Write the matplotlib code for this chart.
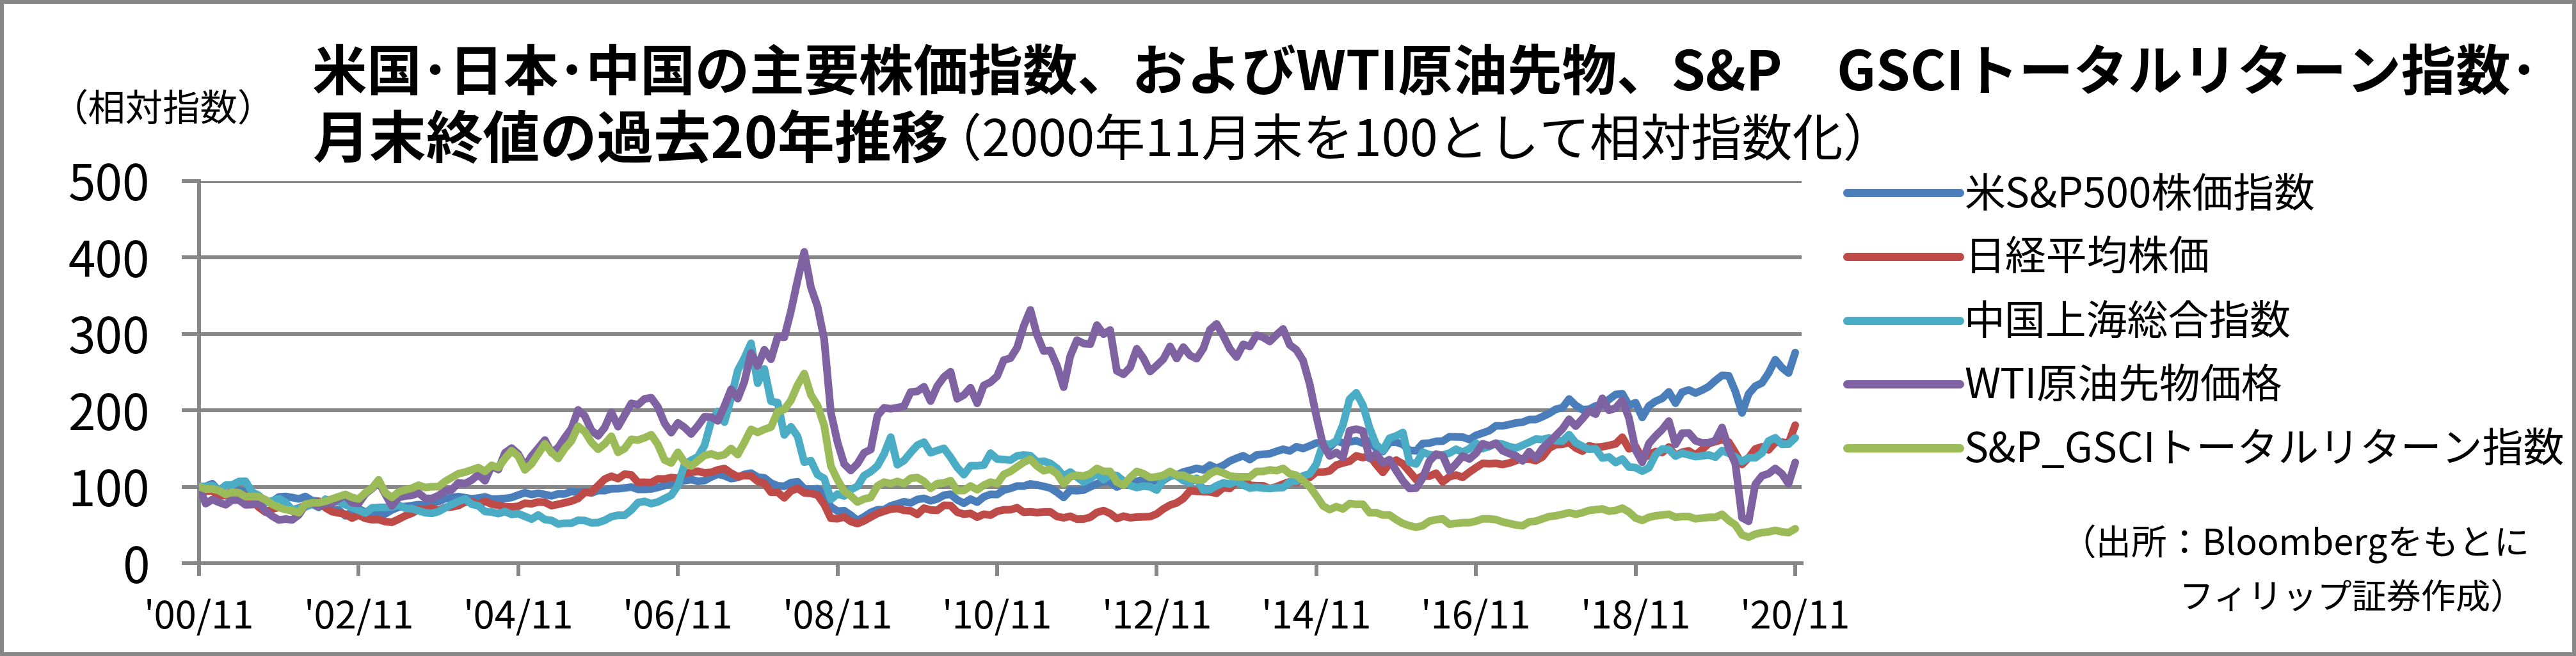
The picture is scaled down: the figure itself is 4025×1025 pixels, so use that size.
import matplotlib
matplotlib.use('Agg')
import matplotlib.pyplot as plt
import numpy as np
from matplotlib.patches import Rectangle

plt.rcParams['font.family'] = ['Noto Sans CJK JP', 'DejaVu Sans']

# month-end relative index, 2000/11 = 100 (2000/11 .. 2020/11, 241 months)
sp500 = [
    100.0, 100.4,
    103.9, 94.3, 88.2, 95.0, 95.5, 93.1, 92.1, 86.2, 79.1, 80.6, 86.6, 87.3,
    85.9, 84.1, 87.2, 81.9, 81.1, 75.3, 69.3, 69.7, 62.0, 67.3, 71.2, 66.9,
    65.1, 64.0, 64.5, 69.7, 73.3, 74.1, 75.3, 76.6, 75.7, 79.9, 80.5, 84.5,
    86.0, 87.1, 85.6, 84.2, 85.2, 86.7, 83.8, 84.0, 84.7, 85.9, 89.2, 92.1,
    89.8, 91.5, 89.8, 88.0, 90.6, 90.6, 93.8, 92.8, 93.4, 91.8, 95.0, 94.9,
    97.3, 97.4, 98.4, 99.6, 96.6, 96.6, 97.1, 99.1, 101.6, 104.8, 106.5, 107.8,
    109.4, 107.0, 108.0, 112.7, 116.4, 114.3, 110.6, 112.1, 116.1, 117.8, 112.6, 111.6,
    104.8, 101.2, 100.6, 105.3, 106.5, 97.3, 96.4, 97.5, 88.7, 73.7, 68.1, 68.7,
    62.8, 55.9, 60.7, 66.4, 69.9, 69.9, 75.1, 77.6, 80.4, 78.8, 83.3, 84.8,
    81.6, 84.0, 88.9, 90.2, 82.8, 78.4, 83.8, 79.8, 86.8, 90.0, 89.8, 95.6,
    97.8, 100.9, 100.8, 103.7, 102.3, 100.4, 98.3, 92.7, 86.0, 95.3, 94.8, 95.6,
    99.8, 103.8, 107.1, 106.3, 99.6, 103.6, 104.9, 106.9, 109.5, 107.4, 107.7, 108.4,
    113.9, 115.2, 119.3, 121.5, 124.0, 122.1, 128.2, 124.2, 127.9, 133.6, 137.3, 140.5,
    135.5, 141.4, 142.4, 143.2, 146.3, 149.0, 146.8, 152.3, 150.0, 153.4, 157.2, 156.5,
    151.7, 160.0, 157.2, 158.6, 160.2, 156.9, 160.0, 149.9, 146.0, 158.1, 158.2, 155.4,
    147.5, 146.9, 156.6, 157.0, 159.4, 159.6, 165.3, 165.1, 164.9, 161.7, 167.2, 170.2,
    173.3, 179.7, 179.6, 181.3, 183.4, 184.3, 187.8, 187.9, 191.6, 195.8, 201.3, 203.3,
    214.7, 206.3, 200.8, 201.3, 205.7, 206.7, 214.1, 220.6, 221.6, 206.2, 209.9, 190.6,
    205.6, 211.7, 215.5, 224.0, 209.2, 223.7, 226.6, 222.5, 226.3, 231.0, 238.8, 245.6,
    245.2, 224.6, 196.5, 221.4, 231.5, 235.7, 248.7, 266.1, 255.7, 248.6, 275.4,
]

nikkei = [
    100.0, 94.1,
    94.5, 88.0, 88.7, 95.1, 90.5, 88.5, 81.0, 73.1, 66.7, 70.8, 73.0, 72.0,
    68.3, 72.3, 75.3, 78.5, 80.3, 72.5, 67.4, 65.7, 64.1, 59.0, 62.9, 58.6,
    56.9, 57.1, 54.4, 53.5, 57.5, 62.0, 65.3, 70.6, 69.8, 72.1, 69.0, 72.9,
    73.6, 75.4, 80.0, 80.3, 76.7, 81.0, 77.3, 75.7, 73.9, 73.5, 74.4, 78.4,
    77.7, 80.1, 79.7, 75.2, 77.0, 79.1, 81.2, 84.7, 92.7, 92.9, 101.5, 110.0,
    113.7, 110.6, 116.5, 115.4, 105.6, 105.8, 105.5, 110.2, 110.1, 112.0, 111.1, 117.6,
    118.7, 120.2, 118.0, 118.8, 122.0, 123.8, 117.8, 113.1, 114.6, 114.3, 107.0, 104.5,
    92.8, 92.9, 85.5, 94.5, 97.9, 92.0, 91.3, 89.2, 76.9, 58.6, 58.1, 60.5,
    54.6, 51.7, 55.4, 60.3, 65.0, 68.0, 70.7, 71.6, 69.2, 68.5, 63.8, 72.0,
    69.6, 69.1, 75.7, 75.5, 66.7, 64.1, 65.1, 60.2, 64.0, 62.8, 67.8, 69.8,
    69.9, 72.5, 66.6, 67.2, 66.2, 67.0, 67.1, 61.1, 59.4, 61.4, 57.6, 57.7,
    60.1, 66.4, 68.8, 65.0, 58.3, 61.5, 59.4, 60.3, 60.6, 60.9, 64.5, 71.0,
    76.0, 78.9, 84.6, 94.6, 94.0, 93.4, 93.3, 91.4, 98.7, 97.8, 106.9, 111.2,
    101.8, 101.3, 101.2, 97.6, 99.9, 103.5, 106.6, 105.3, 110.4, 112.1, 119.2, 119.1,
    120.7, 128.3, 131.1, 133.3, 140.4, 138.1, 140.5, 129.0, 118.7, 130.3, 134.8, 129.9,
    119.6, 109.4, 114.4, 113.8, 117.7, 106.3, 113.1, 115.3, 112.3, 119.0, 125.0, 130.5,
    130.0, 130.5, 129.1, 131.0, 134.1, 136.8, 136.0, 134.1, 139.0, 150.3, 155.1, 155.4,
    157.7, 150.7, 146.5, 153.4, 151.6, 152.3, 154.0, 156.1, 164.7, 149.6, 152.6, 136.6,
    141.8, 146.0, 144.8, 152.0, 140.6, 145.2, 146.9, 141.3, 148.5, 156.5, 159.0, 161.5,
    158.4, 144.3, 129.1, 137.9, 149.4, 152.2, 148.2, 158.0, 158.3, 156.9, 180.5,
]

shanghai = [
    100.0, 100.1,
    101.6, 94.6, 102.0, 102.3, 106.9, 107.1, 92.7, 88.6, 79.3, 81.6, 84.4, 79.5,
    69.9, 72.0, 73.6, 77.0, 72.9, 83.7, 79.9, 80.6, 76.4, 72.8, 69.2, 65.6,
    72.4, 73.0, 73.0, 73.5, 76.1, 71.8, 71.3, 68.7, 66.0, 65.1, 67.5, 72.3,
    76.8, 80.9, 84.1, 77.1, 75.1, 67.6, 66.9, 64.8, 67.5, 63.8, 64.8, 61.2,
    57.6, 63.1, 57.0, 56.0, 51.2, 52.2, 52.3, 56.2, 55.8, 52.8, 53.1, 56.1,
    60.8, 62.7, 62.7, 69.6, 79.3, 80.8, 77.9, 80.1, 84.6, 88.8, 101.4, 129.2,
    134.6, 139.1, 153.8, 185.5, 198.5, 184.5, 215.9, 252.0, 268.2, 287.6, 235.3, 254.1,
    211.7, 210.0, 167.7, 178.4, 165.8, 132.1, 134.1, 115.8, 110.8, 83.5, 90.4, 87.9,
    96.1, 100.6, 114.6, 119.7, 127.2, 142.9, 164.8, 128.8, 134.2, 144.7, 154.3, 158.3,
    144.4, 147.4, 150.2, 138.6, 125.2, 115.8, 127.4, 127.4, 128.3, 143.9, 136.2, 135.6,
    134.8, 140.3, 141.4, 140.6, 132.5, 133.4, 130.5, 124.0, 113.9, 119.2, 112.7, 106.2,
    110.7, 117.3, 109.3, 115.7, 114.6, 107.5, 101.6, 98.9, 100.8, 99.9, 95.6, 109.6,
    115.2, 114.2, 108.0, 105.2, 111.1, 95.6, 96.3, 101.3, 105.0, 103.4, 107.2, 102.2,
    98.2, 99.3, 98.2, 97.9, 98.5, 98.9, 106.3, 107.1, 114.2, 116.9, 129.6, 156.2,
    155.0, 159.9, 181.0, 214.5, 222.7, 206.6, 176.9, 154.8, 147.4, 163.4, 166.4, 170.9,
    132.2, 129.8, 145.1, 141.9, 140.9, 141.5, 143.9, 149.0, 145.1, 149.7, 157.0, 149.9,
    152.6, 156.6, 155.6, 152.4, 150.5, 154.2, 158.1, 162.3, 161.7, 163.9, 160.2, 159.7,
    168.1, 157.4, 153.0, 148.9, 149.5, 137.5, 138.9, 131.6, 136.3, 125.7, 125.0, 120.4,
    124.8, 142.0, 149.3, 148.7, 140.0, 143.9, 141.6, 139.4, 140.3, 141.5, 138.7, 147.3,
    143.8, 139.1, 132.8, 138.1, 137.8, 144.1, 159.9, 164.0, 155.4, 155.7, 163.8,
]

wti = [
    100.0, 77.9,
    83.3, 79.6, 76.4, 82.7, 82.5, 76.3, 76.6, 79.1, 68.1, 61.6, 56.5, 57.7,
    56.6, 63.2, 76.5, 79.3, 73.6, 78.1, 78.5, 84.2, 88.5, 79.1, 78.2, 90.7,
    97.4, 106.4, 90.2, 75.0, 85.9, 87.8, 88.8, 91.8, 84.9, 84.6, 88.4, 94.5,
    96.1, 105.1, 104.0, 108.7, 115.9, 107.7, 127.3, 122.4, 144.3, 150.5, 142.8, 126.3,
    140.1, 150.4, 161.0, 144.5, 151.1, 164.2, 176.1, 200.4, 192.6, 173.7, 166.6, 177.4,
    197.4, 178.5, 193.7, 209.0, 207.2, 214.9, 216.3, 204.2, 182.9, 170.7, 183.5, 177.5,
    169.0, 179.6, 191.5, 191.0, 186.1, 205.5, 227.4, 215.2, 237.4, 274.8, 257.9, 279.0,
    266.7, 296.0, 295.3, 329.8, 370.2, 407.0, 360.7, 335.6, 292.6, 197.1, 158.2, 129.7,
    121.2, 130.1, 144.4, 148.6, 192.8, 203.2, 201.9, 203.4, 205.3, 223.8, 224.7, 230.7,
    211.9, 231.6, 243.5, 250.4, 215.0, 219.9, 229.5, 209.1, 232.5, 236.7, 244.5, 265.6,
    268.0, 281.9, 310.2, 331.2, 298.5, 277.4, 278.2, 258.2, 230.2, 270.9, 291.7, 287.3,
    286.3, 311.3, 299.5, 304.9, 251.5, 247.0, 256.0, 280.4, 268.0, 250.7, 258.5, 266.9,
    283.4, 267.6, 282.6, 271.7, 267.4, 280.7, 305.3, 312.9, 297.5, 280.2, 269.5, 286.1,
    283.4, 298.2, 295.3, 289.9, 298.6, 306.3, 285.4, 279.0, 265.0, 234.1, 192.3, 154.9,
    140.2, 144.7, 138.4, 173.3, 175.3, 172.9, 137.0, 143.0, 131.1, 135.4, 121.1, 107.7,
    97.7, 98.1, 111.5, 133.5, 142.7, 140.5, 120.9, 129.9, 140.2, 136.2, 143.7, 156.2,
    153.5, 157.0, 147.1, 143.4, 140.5, 133.8, 145.8, 137.3, 150.2, 158.1, 166.9, 175.6,
    188.2, 179.2, 188.8, 199.3, 194.9, 215.6, 199.9, 202.9, 212.9, 189.9, 148.1, 132.0,
    156.4, 166.3, 174.8, 185.8, 155.5, 170.0, 170.3, 160.2, 157.2, 157.5, 160.4, 177.5,
    149.9, 130.1, 59.5, 54.8, 103.2, 114.2, 117.1, 123.9, 116.9, 104.0, 131.8,
]

gsci_tr = [
    100, 97,
    97, 95, 90, 93, 92, 87, 87, 87, 83, 77, 73, 70,
    69, 66, 77, 79, 79, 81, 84, 87, 90, 86, 84, 92,
    98, 109, 92, 86, 93, 96, 98, 102, 99, 100, 100, 107,
    112, 117, 119, 122, 125, 120, 128, 125, 137, 147, 140, 122,
    130, 143, 156, 145, 137, 150, 160, 179, 172, 158, 149, 156,
    166, 145, 150, 162, 161, 164, 168, 155, 135, 131, 145, 132,
    127, 134, 141, 143, 140, 142, 150, 142, 158, 175, 171, 175,
    178, 198, 201, 213, 233, 248, 220, 206, 180, 127, 109, 94,
    88, 80, 84, 86, 101, 106, 104, 107, 104, 111, 112, 107,
    98, 104, 105, 108, 95, 95, 101, 96, 102, 106, 104, 116,
    120, 126, 132, 136, 127, 121, 123, 117, 104, 113, 115, 114,
    117, 124, 120, 120, 106, 102, 112, 120, 117, 112, 113, 115,
    120, 115, 115, 111, 109, 109, 117, 121, 118, 114, 113, 113,
    113, 120, 120, 122, 121, 124, 117, 115, 108, 100, 88, 75,
    70, 74, 71, 78, 77, 77, 66, 66, 63, 63, 57, 52,
    49, 47, 49, 55, 57, 58, 51, 52, 53, 53, 55, 58,
    58, 57, 54, 52, 50, 49, 54, 55, 58, 61, 62, 64,
    66, 64, 66, 69, 70, 71, 68, 69, 72, 67, 59, 56,
    60, 62, 63, 64, 60, 61, 61, 58, 59, 60, 60, 64,
    56, 50, 37, 34, 38, 40, 41, 43, 41, 40, 45,
]

series_labels = ['米S&P500株価指数', '日経平均株価', '中国上海総合指数',
                 'WTI原油先物価格', 'S&P_GSCIトータルリターン指数']
series_colors = ['#4A7EBB', '#BE4B48', '#4BACC6', '#7E62A1', '#9BBB59']
tick_labels = ["'00/11", "'02/11", "'04/11", "'06/11", "'08/11", "'10/11",
               "'12/11", "'14/11", "'16/11", "'18/11", "'20/11"]

W, H = 4025, 1025
GRAY = '#878787'
PX = 72 / 100  # points per pixel at dpi 100

fig = plt.figure(figsize=(W / 100, H / 100), dpi=100, facecolor='white')
ax = fig.add_axes([311 / W, 1 - 880 / H, (2815 - 311) / W, (880 - 282.5) / H])

x = np.arange(len(sp500))
for vals, lab, col in zip([sp500, nikkei, shanghai, wti, gsci_tr], series_labels, series_colors):
    ax.plot(x, vals, color=col, lw=12 * PX, label=lab,
            solid_capstyle='round', solid_joinstyle='round', zorder=3)

ax.set_xlim(0, 240.96)
ax.set_ylim(0, 500)
ax.set_yticks(range(0, 501, 100))
ax.set_xticks(range(0, len(sp500), 24))
ax.set_xticklabels(tick_labels)

ax.grid(axis='y', color=GRAY, lw=6 * PX, zorder=1)
ax.set_axisbelow(True)
for side in ('top', 'right'):
    ax.spines[side].set_visible(False)
for side in ('left', 'bottom'):
    ax.spines[side].set_color(GRAY)
    ax.spines[side].set_linewidth(6 * PX)
ax.tick_params(axis='y', direction='out', length=27 * PX, width=6 * PX, color=GRAY,
               labelsize=55, pad=50 * PX)
ax.tick_params(axis='x', direction='out', length=20 * PX, width=6 * PX, color=GRAY,
               labelsize=43, pad=35 * PX)

leg = ax.legend(loc='upper left', bbox_to_anchor=(2886 / W, 1 - 272 / H),
                bbox_transform=fig.transFigure, frameon=False, fontsize=46,
                handlelength=2.75, handletextpad=0.12, labelspacing=0.52,
                borderpad=0, borderaxespad=0)
for ln in leg.get_lines():
    ln.set_linewidth(13 * PX)
    ln.set_solid_capstyle('round')

# titles and notes
fig.text(488 / W, 1 - 116 / H,
         '米国･日本･中国の主要株価指数、およびWTI原油先物、S&P　GSCIトータルリターン指数･',
         fontsize=61.5, fontweight='bold', ha='left', va='center')
fig.text(488 / W, 1 - 220 / H, '月末終値の過去20年推移',
         fontsize=64, fontweight='bold', ha='left', va='center')
fig.text(1455 / W, 1 - 222 / H, '（2000年11月末を100として相対指数化）',
         fontsize=57, ha='left', va='center')
fig.text(80 / W, 1 - 173 / H, '（相対指数）', fontsize=42, ha='left', va='center')
fig.text(3953 / W, 1 - 850 / H, '（出所：Bloombergをもとに', fontsize=40,
         ha='right', va='center')
fig.text(3945 / W, 1 - 935 / H, 'フィリップ証券作成）', fontsize=39,
         ha='right', va='center')

# outer frame
fig.patches.append(Rectangle((3 / W, 3 / H), 1 - 6 / W, 1 - 6 / H,
                             transform=fig.transFigure, fill=False,
                             edgecolor=GRAY, lw=6 * PX))

fig.savefig('out.png', dpi=100, facecolor='white')
